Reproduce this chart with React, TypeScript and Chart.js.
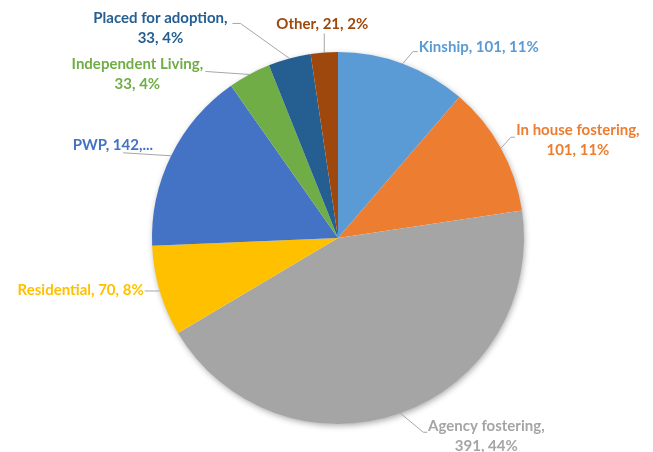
import React, { useEffect, useRef } from "react";
import { Chart, registerables } from "chart.js";

Chart.register(...registerables);

const categories = [
  "Kinship",
  "In house fostering",
  "Agency fostering",
  "Residential",
  "PWP",
  "Independent Living",
  "Placed for adoption",
  "Other",
];
const values = [101, 101, 391, 70, 142, 33, 33, 21];
const labelLines = [
  ["Kinship, 101, 11%"],
  ["In house fostering,", "101, 11%"],
  ["Agency fostering,", "391, 44%"],
  ["Residential, 70, 8%"],
  ["PWP, 142,..."],
  ["Independent Living,", "33, 4%"],
  ["Placed for adoption,", "33, 4%"],
  ["Other, 21, 2%"],
];
const colors = [
  "#5B9BD5",
  "#ED7D31",
  "#A5A5A5",
  "#FFC000",
  "#4472C4",
  "#70AD47",
  "#255E91",
  "#9E480E",
];

// label layout, offsets relative to each slice's outer-edge midpoint
type LabelStyle = {
  leader: [number, number][];
  text: [number, number];
  align: CanvasTextAlign;
};
const labelStyles: LabelStyle[] = [
  { leader: [[10, -12], [15, -12]], text: [16, -16], align: "left" },
  { leader: [[10, -11], [14, -11]], text: [77, -18], align: "center" },
  { leader: [[23, 19], [27, 19]], text: [86, 13], align: "center" },
  { leader: [[-15, 0]], text: [-16, -1], align: "right" },
  { leader: [[-48, -3]], text: [-18, -11], align: "right" },
  { leader: [[-44, -3]], text: [-112, -10], align: "center" },
  { leader: [[-49, -35], [-57, -35]], text: [-129, -40], align: "center" },
  { leader: [[0, -19]], text: [-2, -28], align: "center" },
];

const shadowPlugin = {
  id: "pieShadow",
  beforeDatasetsDraw(chart: any) {
    const arc = chart.getDatasetMeta(0).data[0];
    if (!arc) return;
    const ctx = chart.ctx;
    ctx.save();
    ctx.shadowColor = "rgba(0,0,0,0.35)";
    ctx.shadowBlur = 6;
    ctx.shadowOffsetX = 1;
    ctx.shadowOffsetY = 2;
    ctx.beginPath();
    ctx.arc(arc.x, arc.y, arc.outerRadius - 0.5, 0, Math.PI * 2);
    ctx.fillStyle = "#ffffff";
    ctx.fill();
    ctx.restore();
  },
};

const labelPlugin = {
  id: "outLabels",
  afterDatasetsDraw(chart: any) {
    const ctx = chart.ctx;
    const meta = chart.getDatasetMeta(0);
    meta.data.forEach((arc: any, i: number) => {
      const mid = (arc.startAngle + arc.endAngle) / 2;
      const ex = arc.x + Math.cos(mid) * arc.outerRadius;
      const ey = arc.y + Math.sin(mid) * arc.outerRadius;
      const st = labelStyles[i];
      ctx.save();
      ctx.strokeStyle = "#A6A6A6";
      ctx.lineWidth = 1;
      ctx.beginPath();
      ctx.moveTo(ex, ey);
      st.leader.forEach(([dx, dy]) => ctx.lineTo(ex + dx, ey + dy));
      ctx.stroke();
      ctx.fillStyle = colors[i];
      ctx.font = "bold 15px Lato, 'Open Sans', sans-serif";
      ctx.textAlign = st.align;
      ctx.textBaseline = "middle";
      const lines = labelLines[i];
      lines.forEach((line, j) => {
        ctx.fillText(line, ex + st.text[0], ey + st.text[1] + j * 20);
      });
      ctx.restore();
    });
  },
};

export default function App() {
  const ref = useRef<HTMLCanvasElement | null>(null);
  useEffect(() => {
    if (!ref.current) return;
    const chart = new Chart(ref.current, {
      type: "pie",
      data: {
        labels: categories,
        datasets: [
          {
            data: values,
            backgroundColor: colors,
            borderWidth: 0,
          },
        ],
      },
      options: {
        responsive: false,
        animation: false,
        layout: { padding: { left: 152, right: 129, top: 52, bottom: 28 } },
        plugins: {
          legend: { display: false },
          tooltip: { enabled: false },
        },
      },
      plugins: [shadowPlugin, labelPlugin],
    });
    return () => chart.destroy();
  }, []);
  return (
    <div style={{ position: "fixed", left: 0, top: 0, width: 653, height: 452, background: "#fff" }}>
      <canvas ref={ref} width={653} height={452} style={{ display: "block" }} />
    </div>
  );
}
